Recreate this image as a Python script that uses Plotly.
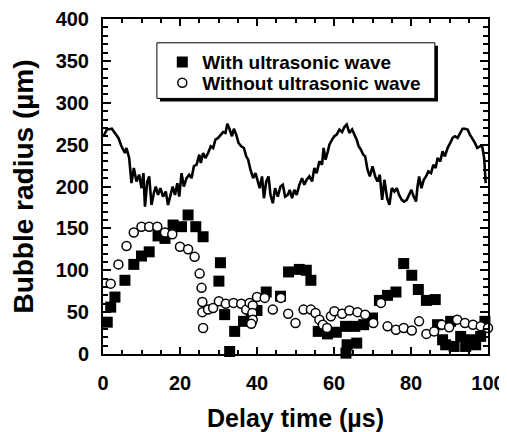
import plotly.graph_objects as go

# bubble radius, with ultrasonic wave (filled squares)
with_t = [1.1, 2.0, 3.1, 5.7, 8.0, 10.0, 12.0, 14.3, 16.1, 18.2, 20.4, 22.1, 24.1, 26.0,
          30.1, 30.5, 31.6, 32.9, 34.2, 36.5, 38.5, 40.0, 42.4, 46.1, 48.2, 51.0, 52.8, 54.0,
          55.9, 58.3, 60.6, 63.0, 63.1, 63.4, 65.4, 65.9, 67.7, 70.0, 71.8, 73.9, 76.1,
          78.1, 80.2, 81.9, 84.0, 86.3, 86.9, 88.2, 89.0, 90.3, 91.2, 92.9, 94.2, 95.5,
          96.8, 98.1, 99.2]
with_r = [38, 56, 68, 88, 107, 117, 122, 141, 138, 154, 152, 166, 152, 140,
          87, 109, 47, 3, 27, 39, 42, 52, 74, 69, 98, 101, 100, 88,
          27, 24, 26, 33, 1, 11, 33, 13, 35, 43, 64, 70, 74,
          108, 94, 77, 64, 65, 35, 17, 11, 39, 9, 21, 9, 17,
          11, 21, 39]

# bubble radius, without ultrasonic wave (open circles)
without_t = [2.0, 4.0, 6.1, 8.0, 10.0, 12.0, 14.1, 16.1, 18.0, 20.0, 22.1, 23.8, 25.1, 25.6,
             25.8, 25.8, 26.0, 27.3, 28.6, 30.1, 31.9, 33.9, 35.9, 37.2, 38.1, 38.9, 38.8,
             38.9, 38.5, 40.0, 42.0, 44.1, 46.2, 48.1, 50.0, 52.1, 54.0, 55.2, 56.2, 57.1,
             58.2, 59.2, 60.1, 62.1, 64.0, 66.1, 68.1, 70.2, 72.2, 73.9, 76.1, 78.1, 80.2,
             82.1, 84.0, 86.0, 88.0, 89.9, 92.0, 94.0, 96.1, 98.1, 100.0]
without_r = [84, 107, 129, 145, 152, 152, 152, 145, 143, 128, 125, 116, 96, 79,
             62, 50, 31, 53, 55, 63, 60, 61, 60, 53, 61, 58, 49,
             41, 36, 68, 67, 53, 67, 48, 37, 53, 53, 49, 41, 35,
             31, 45, 51, 48, 52, 50, 47, 37, 61, 33, 29, 31, 28,
             39, 24, 27, 35, 32, 41, 37, 35, 33, 31]

# oscillating trace across the top
wave_t = [0.1, 1.0, 2.3, 3.1, 4.0, 4.8, 5.7, 6.1, 6.8, 7.4, 8.0, 8.7, 9.4, 10.0, 10.5, 10.9,
          11.5, 12.0, 12.6, 13.2, 13.7, 14.3, 14.9, 15.6, 16.3, 16.9, 17.5, 18.1, 18.7,
          19.3, 19.8, 20.4, 21.0, 21.7, 22.4, 23.0, 23.6, 24.3, 25.0,
          25.4, 26.0, 26.6, 27.3, 28.0, 28.6, 29.2, 29.9, 30.6, 31.2, 31.8, 32.3, 32.9,
          33.5, 34.0, 34.6, 35.2, 35.9, 36.6, 37.2, 37.7, 38.3, 39.0, 39.6, 40.1, 40.7,
          41.3, 41.8, 42.4, 43.0, 43.5, 44.1, 44.7, 45.4, 46.1, 46.7, 47.3, 48.0,
          48.5, 49.1, 49.7, 50.3, 51.0, 51.7, 52.3, 52.9, 53.6, 54.3, 54.9, 55.5, 56.2,
          56.9, 57.3, 57.8, 58.4, 58.8, 59.5, 60.1, 60.7, 61.4, 62.1, 62.7, 63.3, 64.0,
          64.7, 65.3, 65.9, 66.4, 67.0, 67.6, 68.1, 68.7, 69.3, 70.0, 70.7, 71.3, 71.9,
          72.5, 73.1, 73.8, 74.4, 75.0, 75.7, 76.3, 76.9, 77.6, 78.2, 78.9, 79.5, 80.1,
          80.7, 81.3, 81.7, 82.1, 82.7, 83.3, 83.9, 84.5, 85.2, 85.8, 86.4, 86.9, 87.6,
          88.2, 88.8, 89.5, 90.2, 90.8, 91.4, 92.1, 92.8, 93.4, 94.0, 94.7, 95.3, 95.9,
          96.6, 97.2, 97.9, 98.5, 99.0, 99.4]
wave_r = [260, 268, 269, 264, 258, 248, 240, 246, 234, 204, 222, 206, 214, 198, 216, 176,
          206, 212, 178, 192, 200, 190, 198, 188, 194, 178, 188, 200, 190,
          204, 188, 216, 200, 210, 214, 210, 224, 226, 238,
          228, 240, 234, 240, 248, 246, 256, 258, 262, 265, 264, 275, 268,
          260, 269, 262, 252, 248, 246, 236, 232, 220, 210, 216, 208, 198,
          212, 186, 206, 212, 190, 180, 198, 188, 200, 202, 188, 190,
          196, 186, 196, 190, 202, 210, 202, 208, 212, 206, 222, 216, 230,
          226, 246, 232, 242, 250, 256, 260, 262, 268, 265, 271, 274, 264,
          268, 262, 256, 248, 244, 238, 236, 220, 212, 224, 212, 206, 214,
          184, 208, 186, 178, 198, 194, 198, 190, 184, 182, 184, 190, 196,
          188, 182, 200, 212, 198, 208, 212, 218, 216, 226, 222, 234, 230,
          242, 236, 246, 252, 258, 260, 258, 264, 269, 269, 268, 262, 258,
          252, 246, 248, 248, 234, 204]

FONT = "Liberation Sans, Arial, sans-serif"

fig = go.Figure()

fig.add_trace(go.Scatter(
    x=wave_t, y=wave_r, mode='lines', showlegend=False,
    line=dict(color='black', width=2.6),
))
fig.add_trace(go.Scatter(
    x=with_t, y=with_r, mode='markers', name='With ultrasonic wave', cliponaxis=False,
    legend='legend',
    marker=dict(symbol='square', size=11, color='black', line=dict(width=0)),
))
fig.add_trace(go.Scatter(
    x=without_t, y=without_r, mode='markers', name='Without ultrasonic wave', cliponaxis=False,
    legend='legend2',
    marker=dict(symbol='circle', size=9, color='white', line=dict(color='black', width=1.5)),
))

# legend frame with drop shadow
fig.add_shape(type='rect', xref='paper', yref='paper', layer='above',
              x0=0.148, x1=0.870, y0=0.754, y1=0.920,
              fillcolor='black', line=dict(width=0))
fig.add_shape(type='rect', xref='paper', yref='paper', layer='above',
              x0=0.140, x1=0.862, y0=0.763, y1=0.929,
              fillcolor='white', line=dict(color='black', width=1))

axis_common = dict(
    showgrid=False, zeroline=False, automargin=False,
    showline=True, linecolor='black', linewidth=2, mirror='ticks',
    ticks='inside', tickcolor='black', tickwidth=1.5,
    tickfont=dict(family=FONT, size=20, color='black', weight='bold'),
)

legend_common = dict(
    xanchor='left', yanchor='top',
    bgcolor='rgba(0,0,0,0)', borderwidth=0,
    font=dict(family=FONT, size=19, color='black', weight='bold'),
)

# the page body adds an 8px offset, so the figure is 8px smaller on each axis
fig.update_layout(
    width=499, height=424,
    margin=dict(l=95, r=19, t=11, b=78),
    paper_bgcolor='white', plot_bgcolor='white',
    font=dict(family=FONT, color='black'),
    xaxis=dict(
        range=[0, 100], dtick=20, ticklen=7, ticklabelstandoff=10,
        minor=dict(ticks='inside', dtick=5, ticklen=4, tickcolor='black', tickwidth=1.5),
        title=dict(text='Delay time (µs)', standoff=19,
                   font=dict(family=FONT, size=25, color='black', weight='bold')),
        **axis_common),
    yaxis=dict(
        range=[0, 400], dtick=50, ticklen=8, ticklabelstandoff=8,
        minor=dict(ticks='inside', dtick=10, ticklen=5, tickcolor='black', tickwidth=1.5),
        title=dict(text='Bubble radius (µm)', standoff=20,
                   font=dict(family=FONT, size=28, color='black', weight='bold')),
        **axis_common),
    legend=dict(x=0.154, y=0.928, **legend_common),
    legend2=dict(x=0.154, y=0.866, **legend_common),
)

fig.write_html("out.html")
